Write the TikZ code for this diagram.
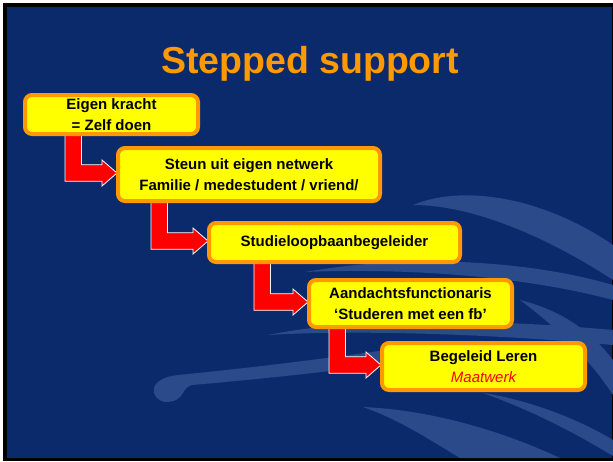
\documentclass[tikz,border=0pt]{standalone}
\usepackage{fontspec}
\setmainfont{Liberation Sans}
\usetikzlibrary{calc}
\definecolor{bgblue}{HTML}{0B2A6C}
\definecolor{swirlblue}{HTML}{2A4A8A}
\definecolor{boxorange}{HTML}{FF9900}
\definecolor{boxyellow}{HTML}{FFFF00}
\definecolor{arrred}{HTML}{FF0000}
\pgfdeclarelayer{bglayer}
\pgfdeclarelayer{arrlayer}
\pgfsetlayers{bglayer,arrlayer,main}
\newcommand\stepconn[3]{%
  \draw[redarrow] let \p1=(#1.south west), \p2=(#2.west) in
    (\x1+#3, \y1+3pt) -- (\x1+#3+16.5pt, \y1+3pt) -- (\x1+#3+16.5pt, \y2+9.75pt)
    -- (\x2-14pt, \y2+9.75pt) -- (\x2-14pt, \y2+14.5pt) -- (\x2+1pt, \y2+1.5pt)
    -- (\x2-14pt, \y2-11.5pt) -- (\x2-14pt, \y2-6.75pt) -- (\x1+#3, \y2-6.75pt) -- cycle;}
\begin{document}
\begin{tikzpicture}[x=1pt,y=-1pt,
  stepbox/.style={draw=boxorange, fill=boxyellow, line width=4pt, rounded corners=7pt,
    inner sep=0pt, align=center, text=black, font=\fontsize{15}{21}\selectfont\bfseries},
  redarrow/.style={fill=arrred, draw=white, line width=0.8pt, line join=miter},
  swirl/.style={fill=swirlblue},
  titlestyle/.style={font=\fontsize{37.5}{40}\selectfont\bfseries, text=boxorange, anchor=base, inner sep=0pt}]
\useasboundingbox (0,0) rectangle (613,461);
\begin{pgfonlayer}{bglayer}
  \fill[white] (0,0) rectangle (613,461);
  \fill[black] (3,3) rectangle (613,461);
  \fill[bgblue] (7,7) rectangle (612,458);
  % decorative swirls
  \fill[swirl] (413,205) .. controls (460,185) and (540,195) .. (613,245) -- (613,280)
     .. controls (560,245) and (480,205) .. (413,205) -- cycle;
  \fill[swirl] (305,272) .. controls (400,255) and (520,258) .. (613,285) -- (613,300)
     .. controls (520,275) and (400,268) .. (305,272) -- cycle;
  \fill[swirl] (268,335) .. controls (350,318) and (480,318) .. (613,330) -- (613,345)
     .. controls (480,333) and (350,330) .. (268,335) -- cycle;
  \fill[swirl] (520,300) .. controls (560,310) and (590,330) .. (613,360) -- (613,395)
     .. controls (590,360) and (560,330) .. (520,300) -- cycle;
  \fill[swirl] (165,402) .. controls (148,398) and (148,378) .. (178,375)
     .. controls (250,368) and (330,358) .. (400,348) -- (400,362)
     .. controls (330,372) and (250,380) .. (192,385)
     .. controls (180,388) and (186,402) .. (165,402) -- cycle;
  \fill[swirl] (363,407) .. controls (430,410) and (500,430) .. (560,458) -- (460,458)
     .. controls (430,440) and (400,420) .. (363,407) -- cycle;
  \fill[swirl] (483,393) .. controls (530,400) and (580,420) .. (613,440) -- (613,456)
     .. controls (570,430) and (530,410) .. (483,393) -- cycle;
\end{pgfonlayer}

\node[titlestyle] (title) at (310,73) {Stepped support};

\node[stepbox, minimum width=173pt, minimum height=39pt] (s1) at (111.5,114.5)
  {Eigen kracht\\= Zelf doen};
\node[stepbox, minimum width=262pt, minimum height=53pt] (s2) at (249,174.5)
  {Steun uit eigen netwerk\\Familie / medestudent / vriend/};
\node[stepbox, minimum width=251pt, minimum height=39pt] (s3) at (334.5,242.5)
  {Studieloopbaanbegeleider};
\node[stepbox, minimum width=203pt, minimum height=47pt] (s4) at (410.5,303.5)
  {Aandachtsfunctionaris\\‘Studeren met een fb’};
\node[stepbox, minimum width=203pt, minimum height=47pt] (s5) at (483.5,366.5)
  {Begeleid Leren\\{\mdseries\itshape\color{arrred}Maatwerk}};

\begin{pgfonlayer}{arrlayer}
  \stepconn{s1}{s2}{42pt}
  \stepconn{s2}{s3}{35pt}
  \stepconn{s3}{s4}{47pt}
  \stepconn{s4}{s5}{22pt}
\end{pgfonlayer}
\end{tikzpicture}
\end{document}
